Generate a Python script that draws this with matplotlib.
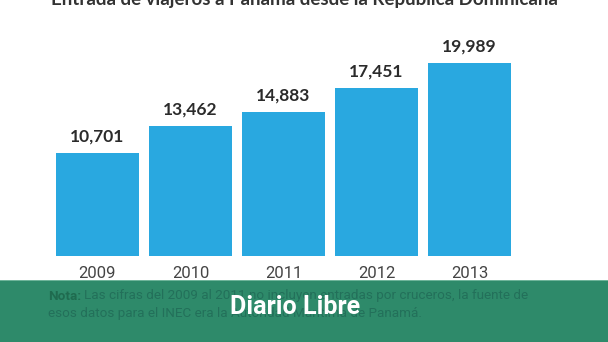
import matplotlib
matplotlib.use("Agg")
from matplotlib import pyplot as plt
from matplotlib.patches import Rectangle

years = ["2009", "2010", "2011", "2012", "2013"]
viajeros = [10701, 13462, 14883, 17451, 19989]

titulo = "Entrada de viajeros a Panamá desde la República Dominicana"
nota_1 = "Las cifras del 2009 al 2011 no incluyen entradas por cruceros, la fuente de"
nota_2 = "esos datos para el INEC era la Autoridad Marítima de Panamá."

W, H = 608, 342
fig = plt.figure(figsize=(W / 100, H / 100), dpi=100)
fig.patch.set_facecolor("white")

# plot area in pixels: bars from x=56 to 511, baseline at y=256
ax = fig.add_axes([56 / W, 86 / H, 455 / W, 193 / H])
ax.set_xlim(-0.446, 4.446)
ax.set_ylim(0, 19989)
x = range(len(years))
bars = ax.bar(x, viajeros, width=0.892, color="#29a8e0")
for b, v in zip(bars, viajeros):
    ax.annotate(f"{v:,}", xy=(b.get_x() + b.get_width() / 2, v), xytext=(0, 6),
                textcoords="offset points", ha="center", va="bottom",
                fontsize=12.5, fontweight="bold", color="#2b2b2b", family="Lato")
ax.set_xticks(list(x))
ax.set_xticklabels(years, fontsize=12, color="#444444", family="Roboto")
ax.tick_params(axis="x", length=0, pad=7)
ax.set_yticks([])
for s in ax.spines.values():
    s.set_visible(False)
ax.patch.set_alpha(0)

# title, cut by the top edge
fig.text(304 / W, 1 - 5 / H, titulo, ha="center", va="baseline", fontsize=13.5,
         fontweight="bold", color="#333333", family="Lato")

# green banner with the note underneath the logo
fig.patches.append(Rectangle((0, 0), 1, 61 / H, transform=fig.transFigure,
                             facecolor="#2e8a6a", edgecolor="none", zorder=1))
fig.patches.append(Rectangle((0, 61 / H), 1, 1.2 / H, transform=fig.transFigure,
                             facecolor="#6fb49a", edgecolor="none", zorder=1))
fig.text(48 / W, 1 - 296 / H, "Nota:", fontsize=9.7, fontweight="bold",
         color="#1f6b4f", va="center", family="Roboto", zorder=2)
fig.text(84 / W, 1 - 296 / H, nota_1, fontsize=9.7, color="#23705a",
         va="center", family="Roboto", zorder=2)
fig.text(48 / W, 1 - 313 / H, nota_2, fontsize=9.7, color="#23705a",
         va="center", family="Roboto", zorder=2)
fig.text(295 / W, 1 - 307 / H, "Diario Libre", fontsize=18, fontweight="bold",
         color="white", ha="center", va="center", family="Roboto", zorder=3)

fig.savefig("out.png", dpi=100)
